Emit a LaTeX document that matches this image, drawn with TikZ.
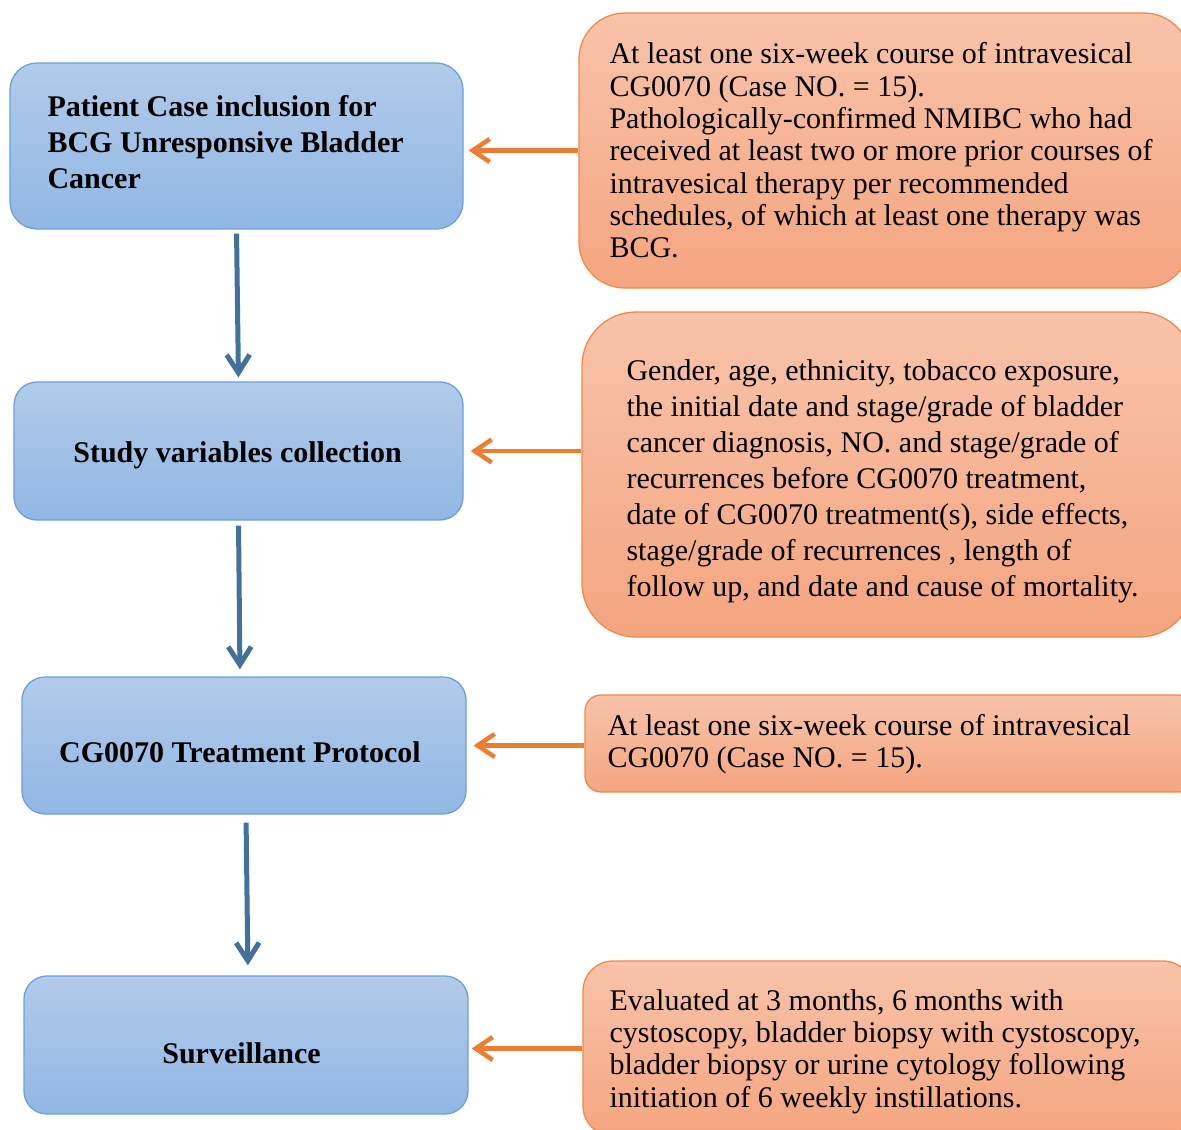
\documentclass[tikz,border=0pt]{standalone}
\usepackage{fontspec}
\setmainfont{Liberation Serif}
\usetikzlibrary{arrows.meta,calc}
\definecolor{bluetop}{RGB}{177,203,234}
\definecolor{bluebot}{RGB}{145,183,227}
\definecolor{blueedge}{RGB}{108,160,220}
\definecolor{orangetop}{RGB}{248,195,170}
\definecolor{orangebot}{RGB}{244,165,127}
\definecolor{orangeedge}{RGB}{240,138,70}
\definecolor{arrowblue}{RGB}{65,113,156}
\definecolor{arroworange}{RGB}{237,125,49}
\begin{document}
\begin{tikzpicture}[x=1pt,y=-1pt,
  bluebox/.style={draw=blueedge, line width=1.3pt, top color=bluetop, bottom color=bluebot, inner sep=0pt},
  orangebox/.style={draw=orangeedge, line width=1.3pt, top color=orangetop, bottom color=orangebot, inner sep=0pt},
  boldtext/.style={inner sep=0pt, font=\fontsize{30}{36}\selectfont\bfseries, align=left},
  plaintext/.style={inner sep=0pt, font=\fontsize{30}{32.3}\selectfont, align=left},
  barrow/.style={draw=arrowblue, line width=5pt, -{Straight Barb[length=18pt,width=23pt]}},
  oarrow/.style={draw=arroworange, line width=4.5pt, -{Straight Barb[length=17pt,width=23pt]}}]
\useasboundingbox (0,0) rectangle (1181,1130);
\begin{scope}
\clip (0,0) rectangle (1181,1130);
% left column
\node[bluebox, rounded corners=27pt, minimum width=453pt, minimum height=166pt] (b1) at (236.5,146) {};
\node[bluebox, rounded corners=23pt, minimum width=449pt, minimum height=138pt] (b2) at (238.5,451) {};
\node[bluebox, rounded corners=23pt, minimum width=444pt, minimum height=137pt] (b3) at (244,745.5) {};
\node[bluebox, rounded corners=23pt, minimum width=444pt, minimum height=138pt] (b4) at (246,1045) {};
% right column
\node[orangebox, rounded corners=46pt, minimum width=611pt, minimum height=275pt] (o1) at (884.5,150.5) {};
\node[orangebox, rounded corners=54pt, minimum width=611pt, minimum height=325pt] (o2) at (887.5,474.5) {};
\node[orangebox, rounded corners=16pt, minimum width=610pt, minimum height=97pt] (o3) at (890,743.5) {};
\node[orangebox, rounded corners=30pt, minimum width=610pt, minimum height=175pt] (o4) at (888,1048.5) {};
% texts
\node[boldtext, anchor=west] (t1) at ($(b1.west)+(38,-4)$) {Patient Case inclusion for\\BCG Unresponsive Bladder\\Cancer};
\node[boldtext, anchor=base] (t2) at ($(b2.center)+(-1,11)$) {Study variables collection};
\node[boldtext, anchor=base] (t3) at ($(b3.center)+(-4,16.5)$) {CG0070 Treatment Protocol};
\node[boldtext, anchor=base] (t4) at ($(b4.center)+(-4.5,18)$) {Surveillance};
\node[plaintext, anchor=west] (u1) at ($(o1.west)+(31,0)$) {At least one six-week course of intravesical\\CG0070 (Case NO. = 15).\\Pathologically-confirmed NMIBC who had\\received at least two or more prior courses of\\intravesical therapy per recommended\\schedules, of which at least one therapy was\\BCG.};
\node[plaintext, font=\fontsize{30}{36}\selectfont, anchor=west] (u2) at ($(o2.west)+(45,6.5)$) {Gender, age, ethnicity, tobacco exposure,\\the initial date and stage/grade of bladder\\cancer diagnosis, NO. and stage/grade of\\recurrences before CG0070 treatment,\\date of CG0070 treatment(s), side effects,\\stage/grade of recurrences , length of\\follow up, and date and cause of mortality.};
\node[plaintext, anchor=west] (u3) at ($(o3.west)+(23,0.5)$) {At least one six-week course of intravesical\\CG0070 (Case NO. = 15).};
\node[plaintext, anchor=west] (u4) at ($(o4.west)+(27,3)$) {Evaluated at 3 months, 6 months with\\cystoscopy, bladder biopsy with cystoscopy,\\bladder biopsy or urine cytology following\\initiation of 6 weekly instillations.};
% connectors
\draw[barrow, shorten <=4pt, shorten >=4pt] (b1.south) -- (b2.north);
\draw[barrow, shorten <=5pt, shorten >=7pt] (b2.south) -- ($(b3.north)+(-4,0)$);
\draw[barrow, shorten <=8pt, shorten >=10pt] ($(b3.south)+(2,0)$) -- ($(b4.north)+(2,0)$);
\draw[oarrow, shorten >=5pt] (o1.west) -- (o1.west -| b1.east);
\draw[oarrow, shorten >=7pt] (o2.west |- b2.east) -- (b2.east);
\draw[oarrow, shorten >=7pt] (o3.west |- b3.east) -- (b3.east);
\draw[oarrow, shorten >=3pt] (o4.west) -- (o4.west -| b4.east);
\end{scope}
\end{tikzpicture}
\end{document}
